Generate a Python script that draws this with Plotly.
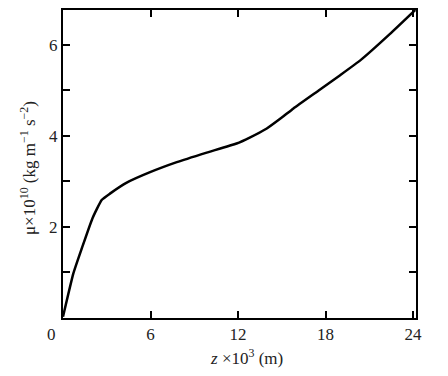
import plotly.graph_objects as go

z_km = [0, 0.71, 1.28, 2.01, 2.65, 3.22, 4.37, 5.97, 7.8, 9.85, 11.9, 12.8, 13.97, 15.0, 15.8, 17.6, 19.0, 20.4, 22.4, 24.15]
mu = [0.03, 0.98, 1.52, 2.18, 2.59, 2.73, 2.97, 3.2, 3.42, 3.63, 3.83, 3.96, 4.16, 4.40, 4.60, 5.01, 5.33, 5.66, 6.23, 6.76]

x_ticks = [6, 12, 18, 24]
y_ticks = [2, 4, 6]
y_minor = [1, 3, 5]

font_fam = "Liberation Serif, Times New Roman, serif"
txt = "#222"
fsize = 17

fig = go.Figure()
fig.add_trace(go.Scatter(x=z_km, y=mu, mode="lines",
                         line=dict(color="black", width=2.5, shape="spline", smoothing=0.4),
                         hoverinfo="skip", showlegend=False))

fig.update_xaxes(range=[0, 24.2], tickvals=x_ticks, ticktext=[str(v) for v in x_ticks],
                 ticks="inside", ticklen=7, tickwidth=2, tickcolor="black",
                 showline=True, linewidth=2, linecolor="black", mirror="ticks",
                 showgrid=False, zeroline=False, automargin=False,
                 tickfont=dict(family=font_fam, size=fsize, color=txt))
fig.update_yaxes(range=[0, 6.76], tickvals=y_ticks, ticktext=[str(v) for v in y_ticks],
                 ticks="inside", ticklen=7, tickwidth=2, tickcolor="black",
                 minor=dict(tickvals=y_minor, ticks="inside", ticklen=7, tickwidth=2, tickcolor="black"),
                 showline=True, linewidth=2, linecolor="black", mirror="ticks",
                 showgrid=False, zeroline=False, automargin=False,
                 tickfont=dict(family=font_fam, size=fsize, color=txt))

fig.add_annotation(x=0, y=0, xref="x", yref="y", text="0", showarrow=False,
                   xshift=-12, yshift=-16, font=dict(family=font_fam, size=fsize, color=txt))
fig.add_annotation(x=0.521, y=0, xref="paper", yref="paper", text="<i>z</i> ×10<sup>3</sup> (m)",
                   showarrow=False, xanchor="center", yanchor="middle", yshift=-39,
                   font=dict(family=font_fam, size=fsize, color=txt))
fig.add_annotation(x=0, y=0.487, xref="paper", yref="paper",
                   text="μ×10<sup>10</sup> (kg m<sup>−1</sup> s<sup>−2</sup>)",
                   showarrow=False, textangle=-90, xanchor="center", yanchor="middle", xshift=-35,
                   font=dict(family=font_fam, size=fsize, color=txt))

# page body has an 8px default margin; compensate so the plot box lands where the reference has it
fig.update_layout(width=440, height=368, margin=dict(l=55, r=32, t=2, b=58),
                  plot_bgcolor="white", paper_bgcolor="white")

fig.write_html("out.html")
